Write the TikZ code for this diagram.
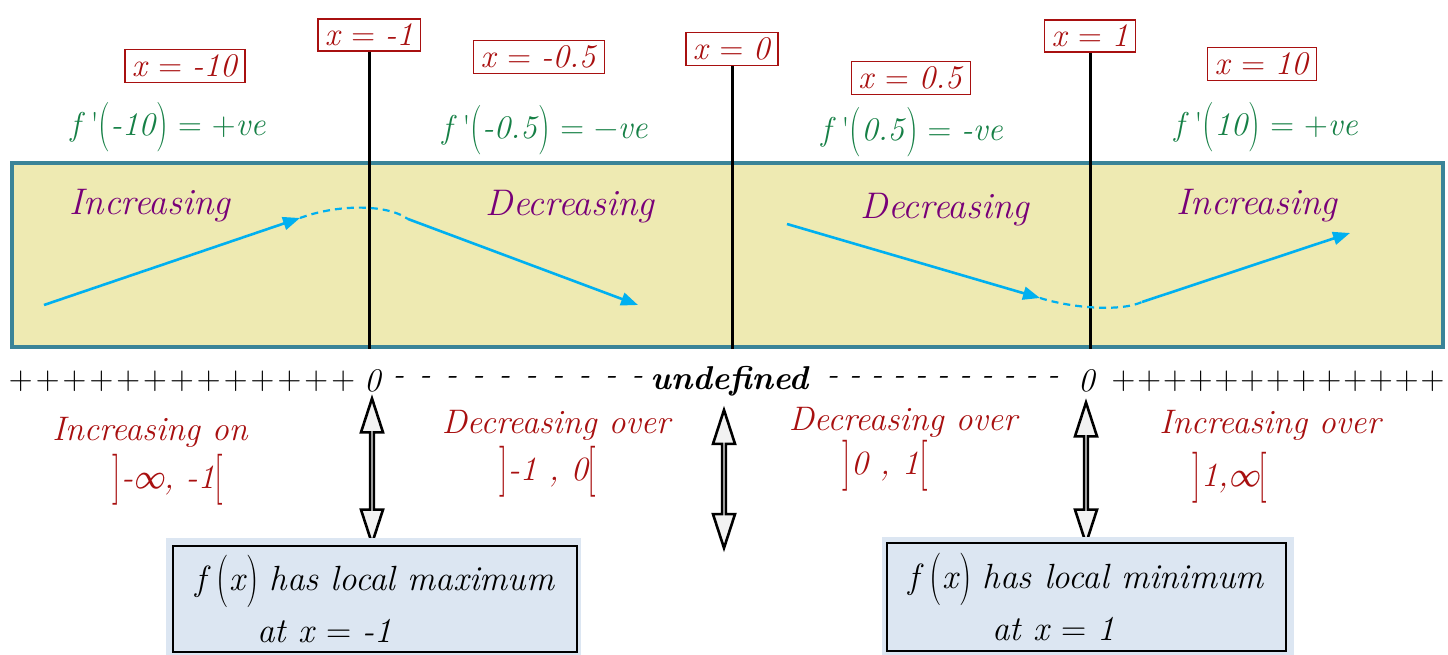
\documentclass[tikz,border=0pt]{standalone}
\usepackage{fontspec}
\usetikzlibrary{shapes.arrows,arrows.meta}
\definecolor{dred}{RGB}{168,16,16}
\definecolor{fgreen}{RGB}{22,128,70}
\definecolor{purp}{RGB}{120,0,120}
\definecolor{cyanb}{RGB}{0,176,240}
\definecolor{yfill}{RGB}{238,234,178}
\definecolor{tealb}{RGB}{58,132,152}
\definecolor{bfill}{RGB}{220,230,242}
\definecolor{afill}{RGB}{242,242,242}
\newcommand{\tp}[1]{\raisebox{-0.12em}{\scalebox{1}[1.5]{\upshape #1}}}
\newcommand{\fpr}{\textit{f}\,\textquotesingle}
\newcommand{\pk}{\kern3.1pt}
\newcommand{\pkk}{\kern2.0pt}
\newcommand{\dk}{\kern15pt}
\newcommand{\dkk}{\kern10.5pt}
\begin{document}
\begin{tikzpicture}[x=1pt,y=-1pt,
  xbox/.style={draw=dred, line width=1.4pt, text=dred, inner xsep=7pt, inner ysep=5pt, font=\fontsize{33}{40}\selectfont},
  deriv/.style={text=fgreen, inner sep=0pt, font=\fontsize{33}{40}\selectfont},
  trend/.style={text=purp, inner sep=0pt, font=\itshape\fontsize{37}{44}\selectfont},
  intv/.style={text=dred, inner sep=0pt, font=\itshape\fontsize{34}{42}\selectfont},
  signs/.style={inner sep=0pt, font=\fontsize{33}{40}\selectfont},
  vline/.style={line width=3pt, black},
  trendline/.style={cyanb, line width=2.6pt},
  tipped/.style={-{Triangle[length=17pt,width=13pt]}},
  dashcurve/.style={cyanb, line width=2.2pt, dash pattern=on 7pt off 5pt},
  dblarrow/.style={double arrow, draw=black, line width=2.6pt, fill=afill, rotate=90, minimum width=22pt, double arrow head extend=6.5pt, double arrow tip angle=36, inner sep=0pt},
  resbox/.style={draw=black, line width=1.5pt, inner sep=0pt, align=left, font=\fontsize{35}{52}\selectfont}
]
\useasboundingbox (0,0) rectangle (1448,655);

% band
\node[draw=tealb, line width=4pt, fill=yfill, minimum width=1431pt, minimum height=184pt, inner sep=0pt] (band) at (727.5,255) {};

% x boxes
\node[xbox] (bm10) at (185,66) {\textit{x} = \textit{-10}};
\node[xbox] (bm1) at (369,35) {\textit{x} = \textit{-1}};
\node[xbox] (bm05) at (539,57) {\textit{x} = \textit{-0.5}};
\node[xbox] (b0) at (732,49) {\textit{x} = \textit{0}};
\node[xbox] (bp05) at (911,78) {\textit{x} = \textit{0.5}};
\node[xbox] (bp1) at (1090,36) {\textit{x} = \textit{1}};
\node[xbox] (bp10) at (1262,64) {\textit{x} = \textit{10}};

% derivative values
\node[deriv] (dm10) at (168,127) {\fpr\tp{(}\textit{-10}\tp{)} = +\textit{ve}};
\node[deriv] (dm05) at (545,130) {\fpr\tp{(}\textit{-0.5}\tp{)} = −\textit{ve}};
\node[deriv] (dp05) at (912,132) {\fpr\tp{(}\textit{0.5}\tp{)} = \textit{-ve}};
\node[deriv] (dp10) at (1266,127) {\fpr\tp{(}\textit{10}\tp{)} = +\textit{ve}};

% vertical lines
\draw[vline] (bm1.south) -- (bm1.south |- band.south);
\draw[vline] (b0.south) -- (b0.south |- band.south);
\draw[vline] (bp1.south) -- (bp1.south |- band.south);

% trend words
\node[trend] (t1) at (150,206) {Increasing};
\node[trend] (t2) at (570,207) {Decreasing};
\node[trend] (t3) at (945,210) {Decreasing};
\node[trend] (t4) at (1257,206) {Increasing};

% blue trend arrows
\coordinate (c1s) at (44,305);
\coordinate (c1e) at (300,218);
\coordinate (c2s) at (408,219);
\coordinate (c2e) at (638,305);
\coordinate (c3s) at (787,224);
\coordinate (c3e) at (1040,298);
\coordinate (c4s) at (1142,302);
\coordinate (c4e) at (1350,233);
\draw[trendline, tipped] (c1s) -- (c1e);
\draw[dashcurve] (c1e) .. controls (335,205) and (385,203) .. (c2s);
\draw[trendline, tipped] (c2s) -- (c2e);
\draw[trendline, tipped] (c3s) -- (c3e);
\draw[dashcurve] (c3e) .. controls (1072,308) and (1120,312) .. (c4s);
\draw[trendline, tipped] (c4s) -- (c4e);

% sign line
\node[signs] (lplus) at (182,381) {+\pk+\pk+\pk+\pk+\pk+\pk+\pk+\pk+\pk+\pk+\pk+\pk+};
\node[signs] (z1) at (373,381) {\textit{0}};
\node[signs] (ldash) at (518,381) {\textit{-\dk-\dk-\dk-\dk-\dk-\dk-\dk-\dk-\dk-}};
\node[signs] (undef) at (730,381) {\textbf{\textit{undefined}}};
\node[signs] (rdash) at (943,381) {\textit{-\dkk-\dkk-\dkk-\dkk-\dkk-\dkk-\dkk-\dkk-\dkk-\dkk-}};
\node[signs] (z2) at (1087,381) {\textit{0}};
\node[signs] (rplus) at (1278,381) {+\pkk+\pkk+\pkk+\pkk+\pkk+\pkk+\pkk+\pkk+\pkk+\pkk+\pkk+\pkk+};

% interval labels
\node[intv] (i1a) at (150,432) {Increasing on};
\node[intv] (i1b) at (168,480) {\tp{]}-∞, -1\tp{[}};
\node[intv] (i2a) at (556,425) {Decreasing over};
\node[intv] (i2b) at (548,472) {\tp{]}-1 , 0\tp{[}};
\node[intv] (i3a) at (903,422) {Decreasing over};
\node[intv] (i3b) at (885,466) {\tp{]}0 , 1\tp{[}};
\node[intv] (i4a) at (1270,425) {Increasing over};
\node[intv] (i4b) at (1230,478) {\tp{]}1,∞\tp{[}};

% double arrows
\node[dblarrow, minimum height=145pt] (d1) at (372,471) {};
\node[dblarrow, minimum height=138pt] (d2) at (724,479) {};
\node[dblarrow, minimum height=141pt] (d3) at (1086,473) {};

% result boxes
\fill[bfill] (166,538) rectangle (581,655);
\node[resbox, minimum width=404pt, minimum height=106pt] (lmax) at (375,599)
  {\textit{f}\,\tp{(}\textit{x}\tp{)} \textit{has local maximum}\\\hspace{62pt}\textit{at x} = \textit{-1}};
\fill[bfill] (882,537) rectangle (1294,655);
\node[resbox, minimum width=399pt, minimum height=108pt] (lmin) at (1086.5,597)
  {\textit{f}\,\tp{(}\textit{x}\tp{)} \textit{has local minimum}\\\hspace{84pt}\textit{at x} = \textit{1}};
\end{tikzpicture}
\end{document}
